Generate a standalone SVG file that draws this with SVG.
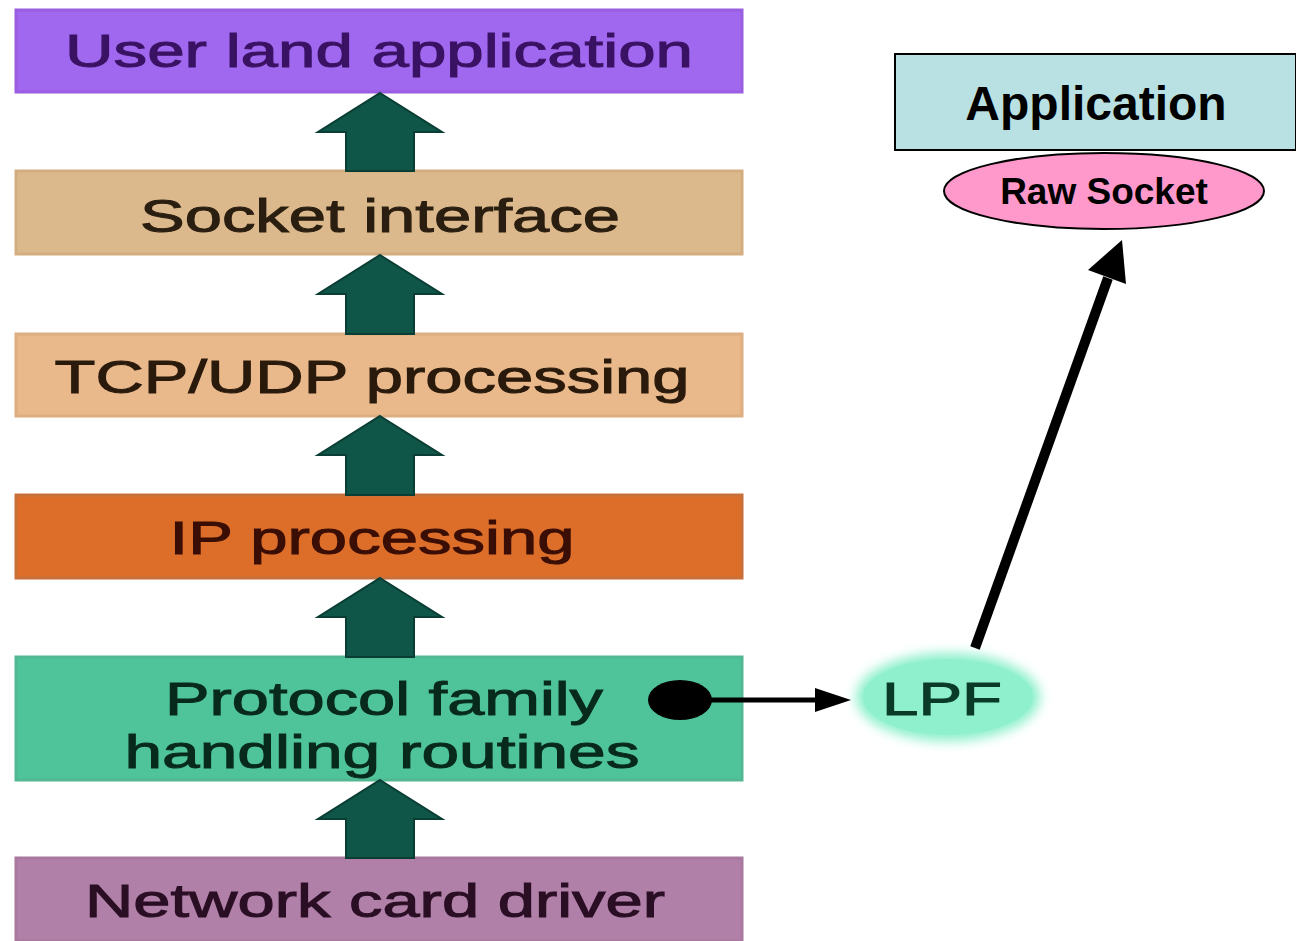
<svg xmlns="http://www.w3.org/2000/svg" width="1296" height="941" viewBox="0 0 1296 941">
<defs>
<style>
.layer{stroke-width:3}
.lt{font-family:"Liberation Sans",Arial,sans-serif;font-size:46px;text-anchor:middle;stroke-width:1}
.up{fill:#0f5548;stroke:#0a3d33;stroke-width:2}
.rt{font-family:"Liberation Sans",Arial,sans-serif;font-weight:bold;text-anchor:middle;fill:#000}
</style>
<filter id="blur" x="-30%" y="-30%" width="160%" height="160%"><feGaussianBlur stdDeviation="6"/></filter>
</defs>
<rect width="1296" height="941" fill="#fff"/>

<g id="user-land">
<rect x="16" y="10" width="726" height="82" fill="#a067ef" stroke="#9a5ee0" class="layer"/>
<text class="lt" x="379" y="67" fill="#3a1263" stroke="#3a1263" textLength="628" lengthAdjust="spacingAndGlyphs">User land application</text>
</g>
<g id="socket-interface">
<rect x="16" y="171" width="726" height="83" fill="#dcb98d" stroke="#d2ad80" class="layer"/>
<text class="lt" x="380" y="232" fill="#2a1e10" stroke="#2a1e10" textLength="480" lengthAdjust="spacingAndGlyphs">Socket interface</text>
</g>
<g id="tcp-udp">
<rect x="16" y="334" width="726" height="82" fill="#e9b98c" stroke="#dcae82" class="layer"/>
<text class="lt" x="372" y="393" fill="#2a1a0c" stroke="#2a1a0c" textLength="635" lengthAdjust="spacingAndGlyphs">TCP/UDP processing</text>
</g>
<g id="ip-processing">
<rect x="16" y="495" width="726" height="83" fill="#dc6e2a" stroke="#c9703a" class="layer"/>
<text class="lt" x="372" y="554" fill="#3a0e04" stroke="#3a0e04" textLength="405" lengthAdjust="spacingAndGlyphs">IP processing</text>
</g>
<g id="protocol-family">
<rect x="16" y="657" width="726" height="123" fill="#4fc49b" stroke="#52b892" class="layer"/>
<text class="lt" x="384" y="715" fill="#082a1c" stroke="#082a1c" textLength="438" lengthAdjust="spacingAndGlyphs">Protocol family</text>
<text class="lt" x="382" y="768" fill="#082a1c" stroke="#082a1c" textLength="515" lengthAdjust="spacingAndGlyphs">handling routines</text>
</g>
<g id="network-card">
<rect x="16" y="858" width="726" height="83" fill="#b080a8" stroke="#a8789f" class="layer"/>
<text class="lt" x="375" y="917" fill="#2a0e24" stroke="#2a0e24" textLength="580" lengthAdjust="spacingAndGlyphs">Network card driver</text>
</g>

<g id="lpf">
<ellipse cx="948" cy="697" rx="92" ry="44" fill="#8cf0cc" filter="url(#blur)"/>
<ellipse cx="948" cy="697" rx="85" ry="38" fill="#8ef0cc"/>
<text class="lt" x="942" y="715" fill="#0a3a28" stroke="#0a3a28" textLength="120" lengthAdjust="spacingAndGlyphs">LPF</text>
</g>

<g id="application">
<rect x="895" y="54" width="401" height="96" fill="#b9e0e2" stroke="#000" stroke-width="2"/>
<text class="rt" x="1096" y="120" font-size="48">Application</text>
</g>
<g id="raw-socket">
<ellipse cx="1104" cy="191" rx="160" ry="38" fill="#ff99cc" stroke="#000" stroke-width="2"/>
<text class="rt" x="1104" y="204" font-size="37">Raw Socket</text>
</g>

<g id="connectors">
<path class="up" d="M380,93 L442,132 L414,132 L414,171 L346,171 L346,132 L318,132 Z"/>
<path class="up" d="M380,255 L442,294 L414,294 L414,334 L346,334 L346,294 L318,294 Z"/>
<path class="up" d="M380,416 L442,455 L414,455 L414,495 L346,495 L346,455 L318,455 Z"/>
<path class="up" d="M380,578 L442,617 L414,617 L414,657 L346,657 L346,617 L318,617 Z"/>
<path class="up" d="M380,780 L442,819 L414,819 L414,858 L346,858 L346,819 L318,819 Z"/>
<ellipse cx="680" cy="700" rx="32" ry="20" fill="#000"/>
<line x1="700" y1="700" x2="818" y2="700" stroke="#000" stroke-width="5"/>
<path d="M851,700 L815,688 L815,712 Z" fill="#000"/>
<line x1="975" y1="648" x2="1108" y2="278" stroke="#000" stroke-width="10"/>
<path d="M1122,240 L1126,284 L1088,270 Z" fill="#000"/>
</g>
</svg>
